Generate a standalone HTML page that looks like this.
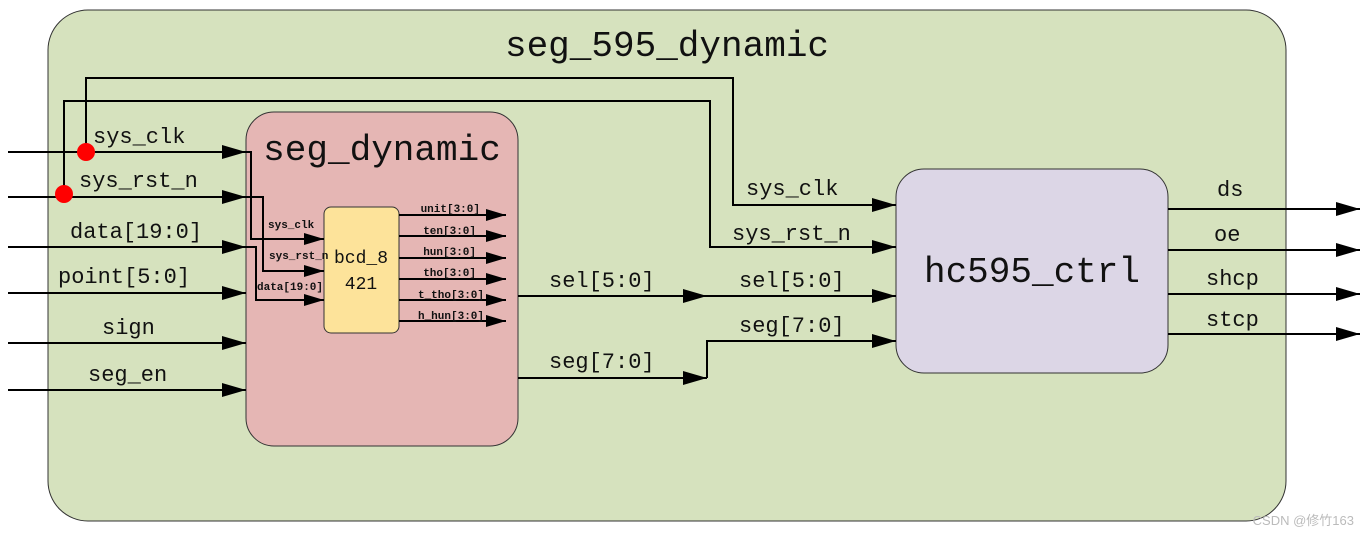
<!DOCTYPE html>
<html><head><meta charset="utf-8"><style>
html,body{margin:0;padding:0;background:#fff;width:1369px;height:537px;overflow:hidden}
svg text{font-family:"Liberation Mono","Noto Serif CJK SC",monospace;fill:#111}
</style></head><body>
<svg width="1369" height="537" viewBox="0 0 1369 537" xmlns="http://www.w3.org/2000/svg">
<defs>
<marker id="a" viewBox="0 0 24 14" refX="24" refY="7" markerWidth="24" markerHeight="14" markerUnits="userSpaceOnUse" orient="auto"><path d="M0,0 L24,7 L0,14z" fill="#000"/></marker>
<marker id="b" viewBox="0 0 20 12" refX="20" refY="6" markerWidth="20" markerHeight="12" markerUnits="userSpaceOnUse" orient="auto"><path d="M0,0 L20,6 L0,12z" fill="#000"/></marker>
</defs>
<rect x="48" y="10" width="1238" height="511" rx="40" fill="#d6e2be" stroke="#333" stroke-width="1"/>
<text x="667" y="56" font-size="36" text-anchor="middle">seg_595_dynamic</text>
<rect x="246" y="112" width="272" height="334" rx="28" fill="#e5b6b4" stroke="#333"/>
<text x="382" y="160" font-size="36" text-anchor="middle">seg_dynamic</text>
<rect x="324" y="207" width="75" height="126" rx="7" fill="#fde39a" stroke="#333"/>
<text x="361" y="263" font-size="18" text-anchor="middle">bcd_8</text>
<text x="361" y="289" font-size="18" text-anchor="middle">421</text>
<rect x="896" y="169" width="272" height="204" rx="28" fill="#dcd6e6" stroke="#333"/>
<text x="1032" y="282" font-size="36" text-anchor="middle">hc595_ctrl</text>
<g stroke="#000" stroke-width="2" fill="none">
<path d="M8 152 H246" marker-end="url(#a)"/>
<path d="M8 197 H246" marker-end="url(#a)"/>
<path d="M8 247 H246" marker-end="url(#a)"/>
<path d="M8 293 H246" marker-end="url(#a)"/>
<path d="M8 343 H246" marker-end="url(#a)"/>
<path d="M8 390 H246" marker-end="url(#a)"/>
<path d="M86 152 V78 H733 V205 H896" marker-end="url(#a)"/>
<path d="M64 197 V101 H710 V247 H896" marker-end="url(#a)"/>
<path d="M246 152 H251 V239 H324" marker-end="url(#b)"/>
<path d="M246 197 H263 V271 H324" marker-end="url(#b)"/>
<path d="M246 247 H256 V300 H324" marker-end="url(#b)"/>
<path d="M399 215 H506" marker-end="url(#b)"/>
<path d="M399 236 H506" marker-end="url(#b)"/>
<path d="M399 258 H506" marker-end="url(#b)"/>
<path d="M399 279 H506" marker-end="url(#b)"/>
<path d="M399 300 H506" marker-end="url(#b)"/>
<path d="M399 321 H506" marker-end="url(#b)"/>
<path d="M518 296 H707" marker-end="url(#a)"/>
<path d="M707 296 H896" marker-end="url(#a)"/>
<path d="M518 378 H707" marker-end="url(#a)"/>
<path d="M707 378 V341 H896" marker-end="url(#a)"/>
<path d="M1168 209 H1360" marker-end="url(#a)"/>
<path d="M1168 250 H1360" marker-end="url(#a)"/>
<path d="M1168 294 H1360" marker-end="url(#a)"/>
<path d="M1168 334 H1360" marker-end="url(#a)"/>
</g>
<circle cx="86" cy="152" r="9" fill="#f00"/>
<circle cx="64" cy="194" r="9" fill="#f00"/>
<g font-size="22">
<text x="93" y="143">sys_clk</text>
<text x="79" y="187">sys_rst_n</text>
<text x="70" y="238">data[19:0]</text>
<text x="58" y="283">point[5:0]</text>
<text x="102" y="334">sign</text>
<text x="88" y="381">seg_en</text>
<text x="746" y="195">sys_clk</text>
<text x="732" y="240">sys_rst_n</text>
<text x="549" y="287">sel[5:0]</text>
<text x="739" y="287">sel[5:0]</text>
<text x="739" y="332">seg[7:0]</text>
<text x="549" y="368">seg[7:0]</text>
<text x="1217" y="196">ds</text>
<text x="1214" y="241">oe</text>
<text x="1206" y="285">shcp</text>
<text x="1206" y="326">stcp</text>
</g>
<g font-size="11" font-weight="bold">
<text x="268" y="228">sys_clk</text>
<text x="269" y="259">sys_rst_n</text>
<text x="257" y="290">data[19:0]</text>
<text x="480" y="212" text-anchor="end">unit[3:0]</text>
<text x="476" y="234" text-anchor="end">ten[3:0]</text>
<text x="476" y="255" text-anchor="end">hun[3:0]</text>
<text x="476" y="276" text-anchor="end">tho[3:0]</text>
<text x="484" y="298" text-anchor="end">t_tho[3:0]</text>
<text x="484" y="319" text-anchor="end">h_hun[3:0]</text>
</g>
<text x="1354" y="525" font-size="13" text-anchor="end" style="fill:#bbb;font-family:'Liberation Sans','Noto Sans CJK SC',sans-serif">CSDN @修竹163</text>
</svg>
</body></html>
